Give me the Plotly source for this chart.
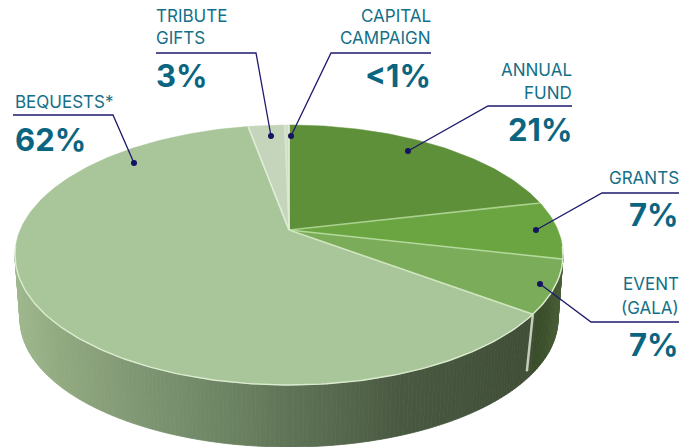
import math
import plotly.graph_objects as go

categories = ["ANNUAL FUND", "GRANTS", "EVENT (GALA)", "BEQUESTS*", "TRIBUTE GIFTS", "CAPITAL CAMPAIGN"]
values = [21.4, 7.2, 6.6, 62.0, 2.6, 0.3]
percent_labels = ["21%", "7%", "7%", "62%", "3%", "<1%"]
name_lines = [["ANNUAL", "FUND"], ["GRANTS"], ["EVENT", "(GALA)"], ["BEQUESTS*"], ["TRIBUTE", "GIFTS"], ["CAPITAL", "CAMPAIGN"]]
slice_colors = ["#5e8f39", "#6ba541", "#7bac5a", "#a9c59a", "#c4d5bb", "#d3dcc8"]
edge_colors = ["#a9d08c", "#b3d99b", "#cfe6bd", "#e0eed8", "#d8e6cf", "#e4ecd9"]

# pie geometry (pixel scale of the hidden axes)
CX, CY, RX, RY = 289, 255, 274, 130
APEX_UP = 25
BX, BY, BRX, BRY = 289, 319, 269, 128
K = APEX_UP / RY
C = RX * math.sqrt(1 - K ** 2)

def project(frac, r=1.0):
    a = 2 * math.pi * frac
    u, v = r * math.sin(a), r * math.cos(a)
    d = 1 + K * v
    return CX + C * u / d, CY - (RY * v + APEX_UP) / d

def lerp_color(stops, x):
    for (x0, c0), (x1, c1) in zip(stops, stops[1:]):
        if x <= x1:
            t = max(0, (x - x0) / (x1 - x0))
            return "rgb(%d,%d,%d)" % tuple(c0[i] + (c1[i] - c0[i]) * t for i in range(3))
    return "rgb(%d,%d,%d)" % stops[-1][1]

wall_stops = [(15, (160, 184, 142)), (60, (146, 170, 128)), (130, (130, 153, 118)), (210, (112, 136, 102)),
              (300, (94, 114, 86)), (400, (74, 90, 66)), (528, (64, 78, 55))]
dark_stops = [(528, (56, 74, 40)), (545, (60, 80, 44)), (565, (78, 100, 60))]

total = sum(values)
fig = go.Figure()

# side wall
wall_split = sum(values[:3]) / total
div_x, div_y = project(wall_split)
N = 180
for i in range(0, N):
    t0, t1 = math.pi * i / N, math.pi * (i + 1) / N
    xs = [CX + RX * math.cos(t0), CX + RX * math.cos(t1), BX + BRX * math.cos(t1), BX + BRX * math.cos(t0)]
    ys = [CY + RY * math.sin(t0), CY + RY * math.sin(t1), BY + BRY * math.sin(t1), BY + BRY * math.sin(t0)]
    mx = sum(xs) / 4
    col = lerp_color(dark_stops if mx > div_x else wall_stops, mx)
    fig.add_trace(go.Scatter(x=xs + xs[:1], y=ys + ys[:1], fill="toself", fillcolor=col, mode="lines",
                             line=dict(color=col, width=0.8), hoverinfo="skip", showlegend=False))

# divider on the wall
fig.add_trace(go.Scatter(x=[div_x, div_x - 6], y=[div_y, div_y + 57], mode="lines",
                         line=dict(color="#c3cdb8", width=2.5), hoverinfo="skip", showlegend=False))

# top face slices
cum = 0.0
bounds = []
ax, ay = project(0, 0)
for name, val, col in zip(categories, values, slice_colors):
    f0, f1 = cum / total, (cum + val) / total
    steps = max(2, int((f1 - f0) * 360))
    pts = [project(f0 + (f1 - f0) * j / steps) for j in range(steps + 1)]
    xs = [ax] + [p[0] for p in pts] + [ax]
    ys = [ay] + [p[1] for p in pts] + [ay]
    fig.add_trace(go.Scatter(x=xs, y=ys, fill="toself", fillcolor=col, mode="lines", line=dict(color=col, width=0.5),
                             name=name, hoverinfo="name", showlegend=False))
    bounds.append(f1)
    cum += val

# separators
for f, col in zip(bounds, edge_colors):
    px, py = project(f)
    fig.add_trace(go.Scatter(x=[ax, px], y=[ay, py], mode="lines", line=dict(color=col, width=1.6),
                             hoverinfo="skip", showlegend=False))

# rim highlight
rim = [project(0.27 + j * 0.46 / 180) for j in range(181)]
fig.add_trace(go.Scatter(x=[p[0] for p in rim], y=[p[1] for p in rim], mode="lines",
                         line=dict(color="#dcecd0", width=1.4), hoverinfo="skip", showlegend=False))

# leader lines: one polyline per category, dot at the end
leaders = [
    ([572, 488, 408], [106, 106, 151]),
    ([679, 602, 536], [193, 193, 230]),
    ([679, 591, 540], [322, 322, 284]),
    ([13, 113, 134], [115, 115, 163]),
    ([156, 256, 271], [53, 53, 136]),
    ([431, 331, 291], [53, 53, 136]),
]
for xs, ys in leaders:
    fig.add_trace(go.Scatter(x=xs, y=ys, mode="lines", line=dict(color="#1d1a6b", width=1.3),
                             hoverinfo="skip", showlegend=False))
    fig.add_trace(go.Scatter(x=xs[-1:], y=ys[-1:], mode="markers", marker=dict(color="#14145f", size=6),
                             hoverinfo="skip", showlegend=False))

# text anchors: (x, anchor, y of each name line, y of percent)
text_pos = [
    (574, "right", [70, 93], 129),
    (681, "right", [178], 214),
    (681, "right", [284, 308], 344),
    (13, "left", [102], 139),
    (154, "left", [16, 38], 75),
    (433, "right", [16, 38], 75),
]
for lines, pct, (x, anchor, ys, py) in zip(name_lines, percent_labels, text_pos):
    for line, y in zip(lines, ys):
        fig.add_annotation(x=x, y=y, text=line, showarrow=False, xanchor=anchor, yanchor="middle",
                           font=dict(family="Inter", size=17, color="#146f88"))
    fig.add_annotation(x=x, y=py, text="<b>%s</b>" % pct, showarrow=False, xanchor=anchor, yanchor="middle",
                       font=dict(family="Inter", size=31, color="#0c6580"))

fig.update_layout(
    width=695, height=447, margin=dict(l=0, r=0, t=0, b=0), paper_bgcolor="white", plot_bgcolor="white",
    xaxis=dict(range=[0, 695], visible=False, fixedrange=True),
    yaxis=dict(range=[447, 0], visible=False, fixedrange=True),
    showlegend=False,
)
fig.write_html("out.html", config={"displayModeBar": False},
               post_script="document.body.style.margin='0';document.documentElement.style.overflow='hidden';")
